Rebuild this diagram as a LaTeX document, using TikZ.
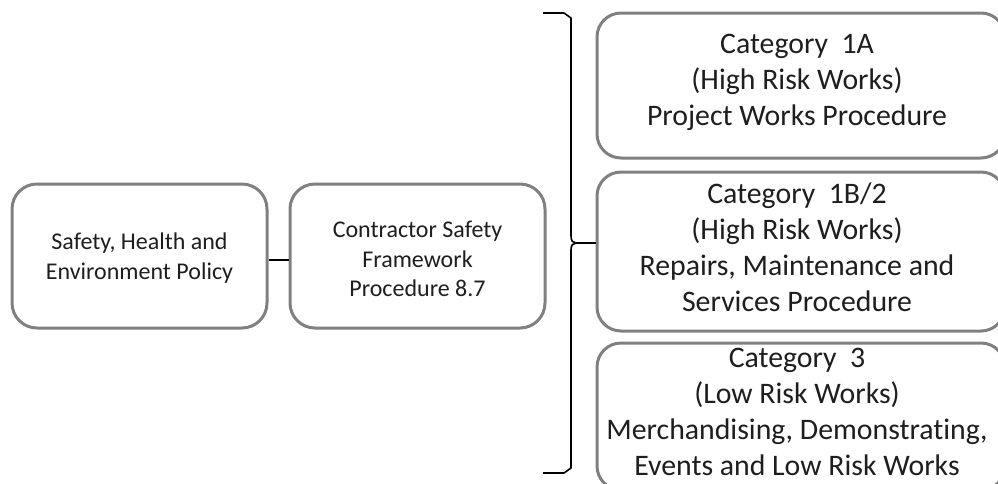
\documentclass[tikz,border=0pt]{standalone}
\usepackage{fontspec}
\setmainfont{Carlito}[Ligatures={NoCommon}]
\definecolor{boxgray}{RGB}{128,128,128}
\definecolor{textcol}{RGB}{30,30,30}
\begin{document}
\begin{tikzpicture}[x=1pt,y=-1pt,
  lbox/.style={draw=boxgray, line width=3pt, rounded corners=25pt, minimum width=255pt, minimum height=144pt, inner sep=0pt},
  rbox/.style={draw=boxgray, line width=3pt, rounded corners=24pt, minimum width=408pt, inner sep=0pt},
  ltext/.style={font=\fontsize{24}{29.5}\selectfont, align=center, text=textcol, inner sep=0pt},
  rtext/.style={font=\fontsize{29.8}{36}\selectfont, align=center, text=textcol, inner sep=0pt},
  conn/.style={draw=black, line width=1.5pt},
  bracestyle/.style={draw=black, line width=1.6pt, line join=round}
]
\useasboundingbox (0,0) rectangle (998,483);
% left boxes
\node[lbox] (shep) at (139.5,256) {};
\node[lbox] (csf) at (417.5,256) {};
\node[ltext] (shepT) at (139.5,258) {Safety, Health and\\Environment Policy};
\node[ltext] (csfT) at (417.5,259) {Contractor Safety\\Framework\\Procedure 8.7};
\draw[conn] ([yshift=-4pt]shep.east) -- ([yshift=-4pt]csf.west);
% right boxes
\node[rbox, minimum height=145pt] (rA) at (801,85.5) {};
\node[rbox, minimum height=159pt] (rB) at (801,251.5) {};
\node[rbox, minimum height=147pt] (rC) at (801,416.5) {};
\node[rtext] (tA) at (797,82.5) {Category~~1A\\(High Risk Works)\\Project Works Procedure};
\node[rtext] (tB) at (797,247) {Category~~1B/2\\(High Risk Works)\\Repairs, Maintenance and\\Services Procedure};
\node[rtext] (tC) at (797,411.5) {Category~~3\\(Low Risk Works)\\Merchandising, Demonstrating,\\Events and Low Risk Works};
% brace
\coordinate (btip) at (576,243);
\draw[bracestyle] (543,13) -- (564,13) -- (571,18) -- (571,236)
  .. controls (571,241) and (573,243) .. (btip)
  .. controls (573,243) and (571,245) .. (571,250)
  -- (571,468) -- (564,473) -- (543,473);
\draw[conn] (btip) -- (btip -| rB.west);
\end{tikzpicture}
\end{document}
